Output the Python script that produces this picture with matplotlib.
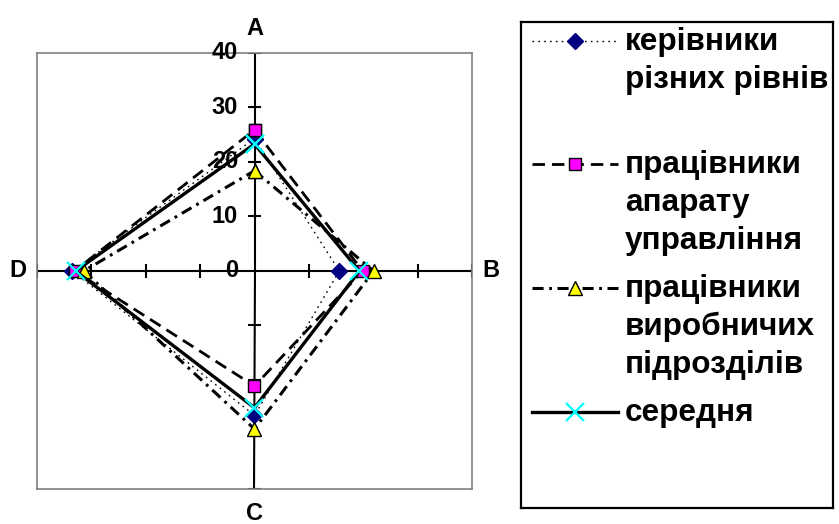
import numpy as np
import matplotlib
matplotlib.use("Agg")
import matplotlib.pyplot as plt

plt.rcParams['font.family'] = ['Liberation Sans', 'DejaVu Sans']
plt.rcParams['lines.scale_dashes'] = False

# ---- data ----
axis_labels = ["A", "B", "C", "D"]
axis_angles_deg = [90, 0, 270, 180]
tick_values = [0, 10, 20, 30, 40]
r_max = 40

series_names = [
    "керівники\nрізних рівнів",
    "працівники\nапарату\nуправління",
    "працівники\nвиробничих\nпідрозділів",
    "середня",
]
kerivnyky = [24.3, 15.6, 26.5, 33.5]
aparat = [25.9, 19.9, 21.1, 33.1]
vyrobnychi = [18.4, 21.9, 29.0, 31.4]
serednia = [23.3, 19.3, 25.1, 32.9]
series_values = [kerivnyky, aparat, vyrobnychi, serednia]

# ---- styles ----
styles = [
    dict(color="black", lw=1.0, dashes=(1.2, 3.0), marker="D", ms=8.5,
         mfc="#000080", mec="#000080", mew=1.0),
    dict(color="black", lw=2.0, dashes=(9, 5), marker="s", ms=9,
         mfc="#FF00FF", mec="black", mew=1.0),
    dict(color="black", lw=2.2, dashes=(8, 4, 2, 4), marker="^", ms=9.5,
         mfc="#FFFF00", mec="black", mew=1.0),
    dict(color="black", lw=2.4, dashes=(None, None), marker="x", ms=13,
         mfc="#00FFFF", mec="#00FFFF", mew=1.6),
]

W, H = 839, 524
fig = plt.figure(figsize=(W / 100, H / 100), dpi=100)
fig.patch.set_facecolor("white")

# plot area box in pixels
pl, pr, pt, pb = 37, 472, 53, 489
ax = fig.add_axes([pl / W, 1 - pb / H, (pr - pl) / W, (pb - pt) / H])
ax.set_xlim(-r_max, r_max)
ax.set_ylim(-r_max, r_max)
ax.set_xticks([])
ax.set_yticks([])
for s in ax.spines.values():
    s.set_color("#808080")
    s.set_linewidth(1.2)

th = np.deg2rad(axis_angles_deg)
# radial axes
for a in th:
    ax.plot([0, r_max * np.cos(a)], [0, r_max * np.sin(a)], color="black",
            lw=1.5, zorder=2, solid_capstyle="butt")
    for tv in tick_values[1:]:
        cx, cy = tv * np.cos(a), tv * np.sin(a)
        px, py = -np.sin(a), np.cos(a)
        hl = 1.2
        ax.plot([cx - hl * px, cx + hl * px], [cy - hl * py, cy + hl * py],
                color="black", lw=1.5, zorder=2, solid_capstyle="butt")

# tick labels along A axis
for tv in tick_values:
    ax.text(-3.0, tv, str(tv), ha="right", va="center", fontsize=17,
            fontweight="bold", zorder=5)

# axis labels
lab_off = {"A": (0, 44.5), "B": (43.5, 0), "C": (0, -44.5), "D": (-43.5, 0)}
for lab in axis_labels:
    x, y = lab_off[lab]
    ax.text(x, y, lab, ha="center", va="center", fontsize=17,
            fontweight="bold", clip_on=False)

# series
for vals, st in zip(series_values, styles):
    v = np.array(vals + vals[:1])
    t = np.concatenate([th, th[:1]])
    ax.plot(v * np.cos(t), v * np.sin(t), clip_on=False, zorder=3, **st)

# ---- legend (manual box) ----
ll, lr, lt, lb = 521, 833, 22, 508
lax = fig.add_axes([ll / W, 1 - lb / H, (lr - ll) / W, (lb - lt) / H])
lax.set_xlim(0, lr - ll)
lax.set_ylim(lb - lt, 0)
lax.set_xticks([])
lax.set_yticks([])
for s in lax.spines.values():
    s.set_color("black")
    s.set_linewidth(1.6)

entry_y = [41 - lt, 164 - lt, 288 - lt, 412 - lt]
line_step = 38
line_x0, line_x1, mark_x = 532 - ll, 618 - ll, 575 - ll
text_x = 625 - ll
for name, st, ey in zip(series_names, styles, entry_y):
    lax.plot([line_x0, line_x1], [ey, ey], **{k: v for k, v in st.items() if k not in ("marker", "ms", "mfc", "mec", "mew")})
    lax.plot([mark_x], [ey], linestyle="none", marker=st["marker"], ms=st["ms"],
             mfc=st["mfc"], mec=st["mec"], mew=st["mew"])
    for i, line in enumerate(name.split("\n")):
        lax.text(text_x, ey + 1 + i * line_step, line, ha="left", va="center",
                 fontsize=22.7, fontweight="bold")

fig.savefig("out.png", dpi=100, facecolor="white")
